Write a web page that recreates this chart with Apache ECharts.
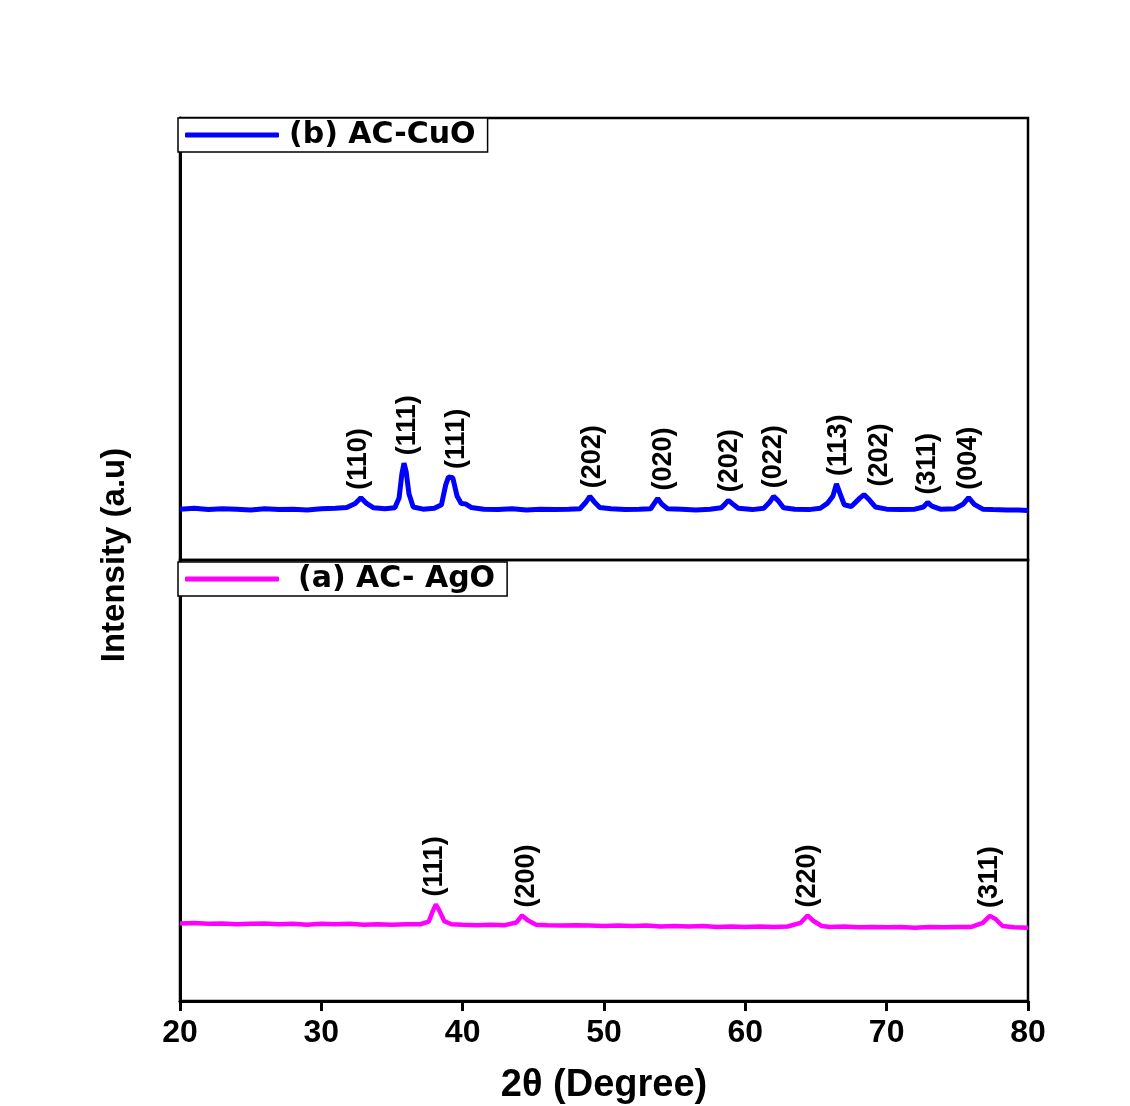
<!DOCTYPE html>
<html>
<head>
<meta charset="utf-8">
<title>XRD AC-AgO / AC-CuO</title>
<script src="https://cdn.jsdelivr.net/npm/echarts@6/dist/echarts.min.js"></script>
<style>
html,body{margin:0;padding:0;background:#fff;}
#chart{width:1130px;height:1106px;}
</style>
</head>
<body>
<div id="chart"></div>
<script>
// 2theta range and ticks
var xMin = 20, xMax = 80, xStep = 10;

// (b) AC-CuO pattern, [2theta, intensity]
var cuoData = [
    [20,115],[21,117],[22,114],[23,116],[24,115],[25,113],[26,116],[27,114],[28,115],[29,113],
    [30,116],[31,117],[31.8,119],[32.4,128],[32.8,141],[33.2,128],[33.7,118],[34.5,116],[35.2,118],
    [35.5,140],[35.7,195],[35.85,219],[36.0,200],[36.2,150],[36.5,120],[37.2,115],[38.0,117],
    [38.5,125],[38.8,170],[39.0,188],[39.3,186],[39.6,145],[39.9,128],[40.2,127],[40.6,119],
    [41.5,115],[42.5,114],[43.5,116],[44.5,113],[45.5,115],[46.5,114],[47.5,115],[48.3,116],
    [48.7,130],[49.0,144],[49.3,132],[49.7,119],[50.5,116],[51.5,114],[52.5,115],[53.3,116],
    [53.6,130],[53.8,139],[54.1,126],[54.5,116],[55.5,115],[56.5,113],[57.5,115],[58.3,118],
    [58.6,128],[58.8,135],[59.1,127],[59.5,117],[60.5,114],[61.3,117],[61.7,130],[62.0,144],
    [62.3,135],[62.7,118],[63.5,115],[64.5,114],[65.3,117],[65.8,128],[66.2,145],[66.45,172],
    [66.7,150],[67.0,125],[67.5,121],[68.1,140],[68.4,148],[68.8,135],[69.2,120],[70,115],
    [71,114],[72,115],[72.6,120],[72.9,130],[73.2,122],[73.8,115],[74.8,116],[75.4,126],
    [75.8,141],[76.2,126],[76.8,115],[77.5,114],[78.5,113],[79.3,113],[80,112]
];

// (a) AC-AgO pattern, [2theta, intensity]
var agoData = [
    [20,176],[21,177],[22,175],[23,176],[24,174],[25,175],[26,176],[27,174],[28,175],[29,173],
    [30,175],[31,174],[32,175],[33,173],[34,174],[35,173],[36,174],[37,174],[37.6,180],[37.9,205],
    [38.1,219],[38.35,205],[38.7,181],[39.2,174],[40,173],[41,172],[42,173],[43,172],[43.8,178],
    [44.2,194],[44.6,183],[45.2,173],[46,172],[47,171],[48,172],[49,171],[50,170],[51,171],
    [52,170],[53,171],[54,169],[55,170],[56,169],[57,170],[58,168],[59,169],[60,168],[61,169],
    [62,168],[63,169],[63.9,177],[64.4,194],[64.8,182],[65.4,170],[66,168],[67,169],[68,167],
    [69,168],[70,167],[71,168],[72,166],[73,168],[74,167],[75,168],[76,168],[76.8,177],[77.3,193],
    [77.7,186],[78.2,170],[79,167],[80,166]
];

// peak indexing
var cuoPeakNames = ['(110)','(111)','(111)','(202)','(020)','(202)','(022)','(113)','(202)','(311)','(004)'];
var cuoPeakTheta = [32.6, 36.1, 39.6, 49.2, 54.2, 58.9, 62.0, 66.6, 69.5, 72.9, 75.8];
var cuoPeakTop   = [141, 219, 188, 144, 139, 135, 144, 172, 148, 130, 141];

var agoPeakNames = ['(111)','(200)','(220)','(311)'];
var agoPeakTheta = [38.0, 44.5, 64.4, 77.3];
var agoPeakTop   = [219, 194, 194, 193];

var boldFont = "'Liberation Sans', Arial, sans-serif";
var narrowFont = "'Liberation Sans Narrow', 'Arial Narrow', 'Liberation Sans', sans-serif";
var legendFont = "'DejaVu Sans', Verdana, sans-serif";

function peakLabels(names, theta, top) {
    var arr = [];
    for (var i = 0; i < names.length; i++) {
        arr.push({name: names[i], value: [theta[i], top[i]]});
    }
    return arr;
}

function labelSeries(name, idx, data) {
    return {
        name: name,
        type: 'scatter',
        xAxisIndex: idx,
        yAxisIndex: idx,
        symbolSize: 0,
        silent: true,
        itemStyle: {color: '#000'},
        label: {
            show: true,
            formatter: '{b}',
            position: 'top',
            distance: 8,
            rotate: 90,
            align: 'left',
            verticalAlign: 'middle',
            color: '#000',
            opacity: 1,
            textBorderWidth: 0,
            fontFamily: boldFont,
            fontWeight: 'bold',
            fontSize: 27
        },
        data: data
    };
}

function legendBox(name, top, gap) {
    return {
        data: [name],
        left: 178,
        top: top,
        orient: 'horizontal',
        backgroundColor: '#fff',
        borderColor: '#000',
        borderWidth: 1.5,
        padding: [2, 12, 2, 7],
        icon: 'roundRect',
        itemWidth: 94,
        itemHeight: 5,
        selectedMode: false,
        textStyle: {
            color: '#000',
            fontFamily: legendFont,
            fontWeight: 'bold',
            fontSize: 30,
            padding: [0, 0, 0, gap]
        }
    };
}

var chart = echarts.init(document.getElementById('chart'));

var option = {
    backgroundColor: '#fff',
    animation: false,
    grid: [
        {left: 180, right: 102, top: 118, height: 442, show: true, borderColor: '#000', borderWidth: 2.5},
        {left: 180, right: 102, top: 560, height: 444, show: true, borderColor: '#000', borderWidth: 2.5}
    ],
    legend: [
        legendBox('(b) AC-CuO', 118, 5),
        legendBox('(a) AC- AgO', 562, 14)
    ],
    xAxis: [
        {
            gridIndex: 0, type: 'value', min: xMin, max: xMax, interval: xStep,
            axisLine: {show: false}, axisTick: {show: false},
            axisLabel: {show: false}, splitLine: {show: false}
        },
        {
            gridIndex: 1, type: 'value', min: xMin, max: xMax, interval: xStep,
            axisLine: {show: true, onZero: false, lineStyle: {color: '#000', width: 3}},
            axisTick: {show: true, length: 10, lineStyle: {color: '#000', width: 3}},
            axisLabel: {margin: 16, color: '#000', fontFamily: boldFont, fontWeight: 'bold', fontSize: 32},
            splitLine: {show: false},
            name: '2θ (Degree)',
            nameLocation: 'middle',
            nameGap: 66,
            nameTextStyle: {color: '#000', fontFamily: boldFont, fontWeight: 'bold', fontSize: 38}
        }
    ],
    yAxis: [
        {
            gridIndex: 0, type: 'value', min: 0, max: 1000,
            axisLine: {show: true, lineStyle: {color: '#000', width: 3}},
            axisTick: {show: false}, axisLabel: {show: false}, splitLine: {show: false}
        },
        {
            gridIndex: 1, type: 'value', min: 0, max: 1000,
            axisLine: {show: true, lineStyle: {color: '#000', width: 3}},
            axisTick: {show: false}, axisLabel: {show: false}, splitLine: {show: false}
        }
    ],
    graphic: [
        {
            type: 'text',
            x: 115,
            y: 555,
            rotation: Math.PI / 2,
            style: {
                text: 'Intensity (a.u)',
                fill: '#000',
                fontFamily: narrowFont,
                fontWeight: 'bold',
                fontSize: 33,
                align: 'center',
                verticalAlign: 'middle'
            }
        }
    ],
    series: [
        {
            name: '(b) AC-CuO',
            type: 'line',
            xAxisIndex: 0,
            yAxisIndex: 0,
            showSymbol: false,
            color: '#0000ff',
            lineStyle: {color: '#0000ff', width: 5},
            data: cuoData
        },
        {
            name: '(a) AC- AgO',
            type: 'line',
            xAxisIndex: 1,
            yAxisIndex: 1,
            showSymbol: false,
            color: '#ff00ff',
            lineStyle: {color: '#ff00ff', width: 4.5},
            data: agoData
        },
        labelSeries('cuoPeaks', 0, peakLabels(cuoPeakNames, cuoPeakTheta, cuoPeakTop)),
        labelSeries('agoPeaks', 1, peakLabels(agoPeakNames, agoPeakTheta, agoPeakTop))
    ]
};

chart.setOption(option);
</script>
</body>
</html>
